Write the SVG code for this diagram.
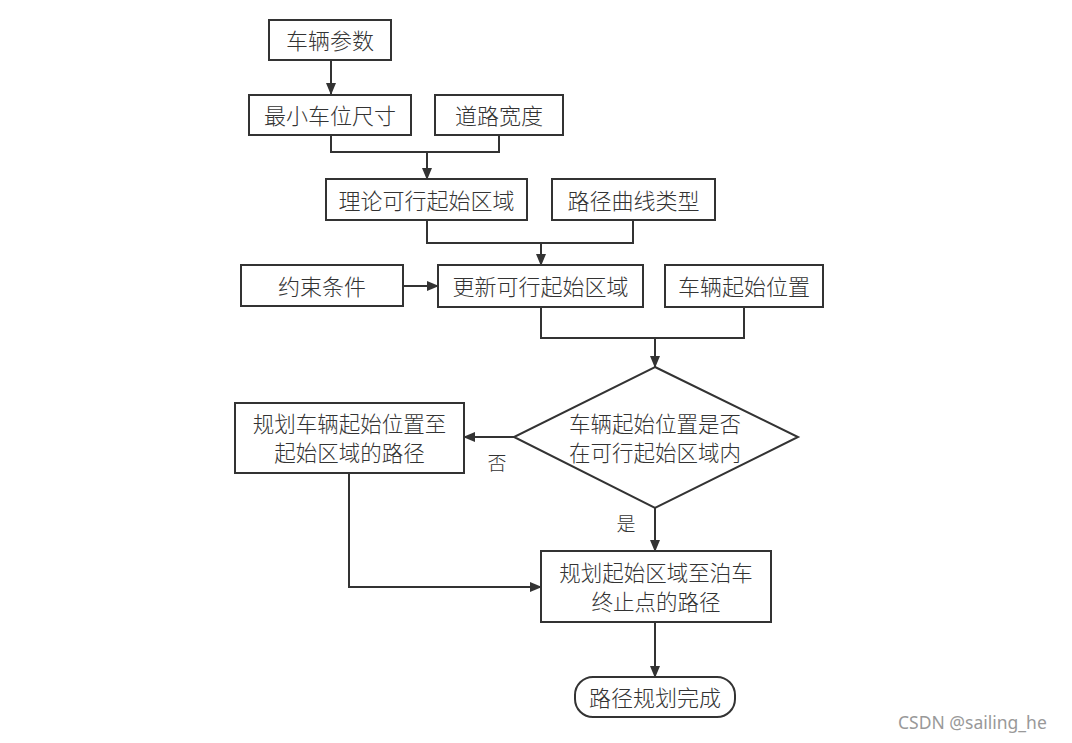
<svg xmlns="http://www.w3.org/2000/svg" width="1072" height="743" viewBox="0 0 1072 743">
<defs>
<marker id="arr" markerWidth="12" markerHeight="10" refX="11" refY="5" orient="auto" markerUnits="userSpaceOnUse">
<path d="M0,0 L12,5 L0,10 Z" fill="#333"/>
</marker>
<style>
.box{fill:#fff;stroke:#333;stroke-width:2}
.ln{fill:none;stroke:#333;stroke-width:2}
.t{font-family:"Noto Sans CJK SC","Noto Sans",sans-serif;font-size:22px;font-weight:300;fill:#333;text-anchor:middle;dominant-baseline:central}
.t2{font-family:"Noto Sans CJK SC","Noto Sans",sans-serif;font-size:21.5px;font-weight:300;fill:#333;text-anchor:middle;dominant-baseline:central}
.lbl{font-family:"Noto Sans CJK SC","Noto Sans",sans-serif;font-size:19px;font-weight:300;fill:#333;text-anchor:middle;dominant-baseline:central}
.wm{font-family:"Noto Sans","Open Sans",sans-serif;font-size:17.5px;fill:#999;dominant-baseline:central}
</style>
</defs>
<rect width="1072" height="743" fill="#fff"/>
<g id="connectors">
<path class="ln" d="M331,60 V94" marker-end="url(#arr)"/>
<path class="ln" d="M331,135 V152 H499 V135"/>
<path class="ln" d="M427,152 V179" marker-end="url(#arr)"/>
<path class="ln" d="M427,220 V243 H633 V220"/>
<path class="ln" d="M541,243 V265" marker-end="url(#arr)"/>
<path class="ln" d="M403,286 H438" marker-end="url(#arr)"/>
<path class="ln" d="M541,307 V338 H744 V307"/>
<path class="ln" d="M655,338 V367" marker-end="url(#arr)"/>
<path class="ln" d="M514,437 H464" marker-end="url(#arr)"/>
<path class="ln" d="M655,508 V551" marker-end="url(#arr)"/>
<path class="ln" d="M349,473 V587 H541" marker-end="url(#arr)"/>
<path class="ln" d="M655,622 V677" marker-end="url(#arr)"/>
<text class="lbl" x="497" y="461">否</text>
<text class="lbl" x="626" y="522">是</text>
</g>
<g id="n1"><rect class="box" x="269" y="20" width="122" height="40"/><text class="t" x="330" y="39">车辆参数</text></g>
<g id="n2"><rect class="box" x="249" y="95" width="162" height="40"/><text class="t" x="330" y="114">最小车位尺寸</text></g>
<g id="n3"><rect class="box" x="435" y="95" width="128" height="40"/><text class="t" x="499" y="114">道路宽度</text></g>
<g id="n4"><rect class="box" x="326" y="179" width="201" height="41"/><text class="t" x="426.5" y="199">理论可行起始区域</text></g>
<g id="n5"><rect class="box" x="552" y="179" width="163" height="41"/><text class="t" x="633.5" y="199">路径曲线类型</text></g>
<g id="n6"><rect class="box" x="241" y="265" width="162" height="41"/><text class="t" x="322" y="285">约束条件</text></g>
<g id="n7"><rect class="box" x="438" y="265" width="205" height="42"/><text class="t" x="540.5" y="285">更新可行起始区域</text></g>
<g id="n8"><rect class="box" x="665" y="265" width="158" height="42"/><text class="t" x="744" y="285">车辆起始位置</text></g>
<g id="n9"><polygon class="box" points="655,367 798,437 655,508 514,437"/><text class="t2" x="655" y="422">车辆起始位置是否</text><text class="t2" x="655" y="451">在可行起始区域内</text></g>
<g id="n10"><rect class="box" x="235" y="403" width="229" height="70"/><text class="t2" x="349.5" y="422">规划车辆起始位置至</text><text class="t2" x="349.5" y="451">起始区域的路径</text></g>
<g id="n11"><rect class="box" x="541" y="551" width="230" height="71"/><text class="t2" x="656" y="571">规划起始区域至泊车</text><text class="t2" x="656" y="600">终止点的路径</text></g>
<g id="n12"><rect class="box" x="575" y="677" width="160" height="40" rx="18" ry="18"/><text class="t" x="655" y="696">路径规划完成</text></g>
<text class="wm" x="898" y="722">CSDN @sailing_he</text>
</svg>
